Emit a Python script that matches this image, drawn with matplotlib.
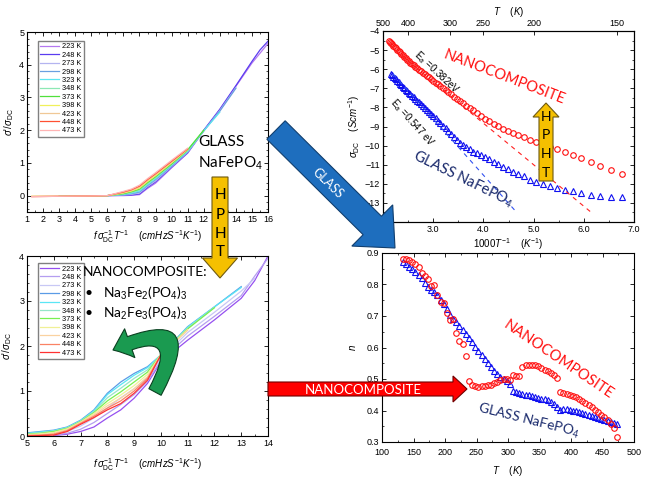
import numpy as np
import matplotlib
matplotlib.use("Agg")
import matplotlib.pyplot as plt
from matplotlib.patches import FancyArrow, FancyArrowPatch, ArrowStyle
from matplotlib.path import Path
from matplotlib.ticker import AutoMinorLocator, MultipleLocator, FormatStrFormatter

plt.rcParams['font.family'] = ['Liberation Sans', 'DejaVu Sans']
plt.rcParams['mathtext.fontset'] = 'custom'
plt.rcParams['mathtext.rm'] = 'Liberation Sans'
plt.rcParams['mathtext.it'] = 'Liberation Sans:italic'
plt.rcParams['mathtext.bf'] = 'Liberation Sans:bold'
plt.rcParams['xtick.direction'] = 'in'
plt.rcParams['ytick.direction'] = 'in'
plt.rcParams['axes.linewidth'] = 0.8

ANNOT = ['Lato', 'DejaVu Sans']

# ---------- master curves (sigma'/sigma_DC) ----------
temps = [223, 248, 273, 298, 323, 348, 373, 398, 423, 448, 473]
glass_colors = ['#b478f0', '#5a3cf0', '#b4b4f0', '#6aa0e0', '#5ce6f0', '#8ce8b4',
                '#50e03c', '#f0f05a', '#f0c896', '#ff5032', '#ffb4b4']
nano_colors = ['#9650f0', '#b49ef0', '#c8c8f5', '#5a9be6', '#5ae6f5', '#96e6c8',
               '#78f050', '#f0f096', '#fad2a0', '#fa8264', '#ff3232']

n = None
glass_x = [1.3, 3, 5, 6, 7, 7.5, 8, 8.5, 9, 10, 11, 12, 13, 14, 15, 15.5, 16]
glass_ratio = [
    [n, n, -0.01, 0.00, 0.00, 0.01, 0.03, 0.22, 0.38, 0.85, 1.30, 1.98, 2.62, 3.34, 4.05, 4.35, 4.65],
    [n, n, -0.01, 0.00, 0.01, 0.02, 0.05, 0.25, 0.42, 0.87, 1.31, 2.00, 2.64, 3.36, 4.10, 4.45, 4.72],
    [n, n, -0.01, 0.00, 0.02, 0.04, 0.08, 0.28, 0.45, 0.89, 1.33, 1.97, 2.60, 3.30, n, n, n],
    [n, n, -0.01, 0.00, 0.03, 0.06, 0.11, 0.31, 0.49, 0.91, 1.34, 1.98, 2.58, 3.28, n, n, n],
    [n, -0.02, -0.01, 0.00, 0.04, 0.08, 0.14, 0.34, 0.52, 0.93, 1.36, 1.98, 2.55, n, n, n, n],
    [n, -0.02, -0.01, 0.00, 0.05, 0.10, 0.17, 0.37, 0.55, 0.95, 1.38, 1.99, n, n, n, n, n],
    [n, -0.02, -0.01, 0.00, 0.06, 0.12, 0.20, 0.40, 0.58, 0.97, 1.40, 2.00, n, n, n, n, n],
    [-0.02, -0.02, -0.01, 0.00, 0.08, 0.14, 0.23, 0.43, 0.61, 1.00, 1.41, n, n, n, n, n, n],
    [-0.02, -0.02, -0.01, 0.00, 0.09, 0.16, 0.26, 0.46, 0.64, 1.02, 1.42, n, n, n, n, n, n],
    [-0.03, -0.02, -0.01, 0.00, 0.11, 0.18, 0.29, 0.49, 0.67, 1.05, 1.43, n, n, n, n, n, n],
    [-0.03, -0.02, -0.01, 0.00, 0.13, 0.20, 0.32, 0.52, 0.70, 1.08, 1.45, n, n, n, n, n, n],
]

nano_x = [5, 5.5, 6, 6.5, 7, 7.5, 8, 8.5, 9, 9.5, 10, 11, 12, 13, 13.5, 14]
nano_ratio = [
    [n, n, 0.01, 0.04, 0.10, 0.20, 0.40, 0.58, 0.84, 1.17, 1.65, 2.13, 2.58, 3.06, 3.45, 4.00],
    [n, n, 0.02, 0.06, 0.15, 0.30, 0.50, 0.70, 0.92, 1.22, 1.68, 2.22, 2.66, 3.12, 3.55, 3.95],
    [n, 0.02, 0.04, 0.10, 0.22, 0.40, 0.62, 0.85, 1.05, 1.30, 1.72, 2.30, 2.75, 3.22, 3.50, n],
    [0.07, 0.10, 0.13, 0.20, 0.35, 0.58, 0.95, 1.20, 1.39, 1.54, 1.80, 2.43, 2.87, 3.32, n, n],
    [0.06, 0.09, 0.12, 0.19, 0.34, 0.56, 0.92, 1.14, 1.35, 1.52, 1.80, 2.42, 2.87, 3.30, n, n],
    [0.05, 0.07, 0.11, 0.18, 0.33, 0.54, 0.85, 1.06, 1.28, 1.47, 1.81, 2.40, 2.86, n, n, n],
    [0.04, 0.06, 0.10, 0.17, 0.32, 0.52, 0.78, 0.98, 1.20, 1.42, 1.81, 2.38, 2.85, n, n, n],
    [0.03, 0.05, 0.08, 0.16, 0.31, 0.50, 0.72, 0.91, 1.12, 1.37, 1.81, 2.37, n, n, n, n],
    [0.02, 0.03, 0.06, 0.14, 0.30, 0.47, 0.67, 0.84, 1.05, 1.32, 1.80, 2.35, n, n, n, n],
    [0.01, 0.02, 0.04, 0.12, 0.28, 0.44, 0.62, 0.78, 1.00, 1.28, 1.80, n, n, n, n, n],
    [0.00, 0.01, 0.02, 0.10, 0.26, 0.41, 0.58, 0.72, 0.95, 1.24, 1.80, n, n, n, n, n],
]

# ---------- DC conductivity (log10) ----------
T_dc_nano = [473, 468, 463, 458, 453, 448, 443, 438, 433, 428, 423, 418, 413, 408, 403, 398,
             393, 388, 383, 378, 373, 368, 363, 358, 353, 348, 343, 338, 333, 328, 323, 318,
             313, 308, 303, 298, 293, 288, 283, 278, 273, 268, 263, 258, 253, 248, 243, 238,
             233, 228, 223, 218, 213, 208, 203, 198, 193, 188, 183, 178, 173, 168, 163, 158,
             153, 148]
sigma_nano = [-4.50, -4.56, -4.63, -4.70, -4.77, -4.84, -4.91, -4.98, -5.05, -5.12,
              -5.20, -5.28, -5.36, -5.43, -5.51, -5.58, -5.65, -5.73, -5.80, -5.88,
              -5.96, -6.03, -6.11, -6.19, -6.27, -6.35, -6.43, -6.52, -6.61, -6.70,
              -6.79, -6.89, -6.99, -7.09, -7.20, -7.31, -7.43, -7.54, -7.67, -7.79,
              -7.92, -8.04, -8.15, -8.30, -8.45, -8.60, -8.72, -8.85, -8.99, -9.11,
              -9.23, -9.35, -9.46, -9.57, -9.69, -9.81, -9.93, -10.06, -10.20, -10.35,
              -10.50, -10.67, -10.86, -11.07, -11.28, -11.50]
T_dc_glass = [463, 458, 453, 448, 443, 438, 433, 428, 423, 418, 413, 408, 403, 398,
              393, 388, 383, 378, 373, 368, 363, 358, 353, 348, 343, 338, 333, 328, 323, 318,
              313, 308, 303, 298, 293, 288, 283, 278, 273, 268, 263, 258, 253, 248, 243, 238,
              233, 228, 223, 218, 213, 208, 203, 198, 193, 188, 183, 178, 173, 168, 163, 158,
              153, 148]
sigma_glass = [-6.25, -6.32, -6.39, -6.46, -6.53, -6.60, -6.67, -6.75, -6.83, -6.91,
               -6.99, -7.07, -7.15, -7.23, -7.31, -7.39, -7.47, -7.56, -7.64, -7.73,
               -7.82, -7.92, -8.02, -8.12, -8.23, -8.34, -8.45, -8.57, -8.70, -8.83,
               -8.96, -9.10, -9.24, -9.39, -9.54, -9.70, -9.85, -9.98, -10.09, -10.20,
               -10.31, -10.40, -10.49, -10.58, -10.72, -10.84, -10.96, -11.11, -11.24, -11.37,
               -11.50, -11.61, -11.78, -11.89, -12.01, -12.11, -12.24, -12.32, -12.38, -12.50,
               -12.59, -12.64, -12.68, -12.71]
ea_nano_x = [2.10, 6.15]
ea_nano_y = [-4.70, -13.50]
ea_glass_x = [2.20, 4.62]
ea_glass_y = [-6.25, -13.37]
T_top = [500, 400, 300, 250, 200, 150]

# ---------- exponent n ----------
T_n = [133, 138, 143, 148, 153, 158, 163, 168, 173, 178, 183, 188, 193, 198, 203, 208,
       213, 218, 223, 228, 233, 238, 243, 248, 253, 258, 263, 268, 273, 278, 283, 288,
       293, 298, 303, 308, 313, 318, 323, 328, 333, 338, 343, 348, 353, 358, 363, 368,
       373, 378, 383, 388, 393, 398, 403, 408, 413, 418, 423, 428, 433, 438, 443, 448,
       453, 458, 463, 468, 473]
n_glass = [0.870, 0.864, 0.856, 0.848, 0.840, 0.830, 0.820, 0.806, 0.793, 0.783,
           0.775, 0.766, 0.752, 0.737, 0.722, 0.702, 0.692, 0.680, 0.669, 0.657,
           0.643, 0.630, 0.616, 0.602, 0.588, 0.575, 0.563, 0.550, 0.538, 0.526,
           0.515, 0.506, 0.500, 0.494, 0.485, 0.463, 0.458, 0.455, 0.452, 0.450,
           0.448, 0.446, 0.443, 0.440, 0.438, 0.436, 0.432, 0.427, 0.421, 0.410,
           0.402, 0.406, 0.405, 0.402, 0.400, 0.398, 0.395, 0.392, 0.389, 0.386,
           0.383, 0.380, 0.377, 0.373, 0.370, 0.367, 0.364, 0.361, 0.357]
n_nano = [0.880, 0.882, 0.878, 0.872, 0.866, 0.856, 0.838, 0.826, 0.818, 0.796,
          0.798, 0.768, 0.745, 0.740, 0.708, 0.686, 0.690, 0.645, 0.620, 0.610,
          0.573, 0.495, 0.482, 0.477, 0.476, 0.477, 0.478, 0.480, 0.482, 0.486,
          0.489, 0.496, 0.500, 0.500, 0.498, 0.513, 0.508, 0.510, 0.538, 0.543,
          0.545, 0.546, 0.545, 0.541, 0.536, 0.530, 0.524, 0.519, 0.512, 0.503,
          0.458, 0.457, 0.453, 0.450, 0.446, 0.442, 0.437, 0.430, 0.424, 0.417,
          0.410, 0.402, 0.394, 0.386, 0.379, 0.370, 0.358, 0.345, 0.317]

W, H = 645, 479
fig = plt.figure(figsize=(W / 100, H / 100), dpi=100)


def px_axes(left, top, right, bottom):
    return fig.add_axes([left / W, 1 - bottom / H, (right - left) / W, (bottom - top) / H])


def style(ax, xmaj, ymaj, xminor, yminor):
    ax.xaxis.set_major_locator(MultipleLocator(xmaj))
    ax.yaxis.set_major_locator(MultipleLocator(ymaj))
    ax.xaxis.set_minor_locator(AutoMinorLocator(xminor))
    ax.yaxis.set_minor_locator(AutoMinorLocator(yminor))
    ax.tick_params(which='both', top=True, right=True, labelsize=6.5, pad=2)
    ax.tick_params(which='major', length=3, width=0.6)
    ax.tick_params(which='minor', length=1.5, width=0.5)


def master_legend(ax, y0):
    ax.legend(loc='upper left', bbox_to_anchor=(0.045, y0), fontsize=5.3, handlelength=2.6,
              handletextpad=0.4, borderpad=0.3, labelspacing=0.17, fancybox=False,
              edgecolor='#808080', framealpha=1, borderaxespad=0)


xlab_master = r"$f\,\sigma^{-1}_{\rm DC}T^{-1}$    $(cmHzS^{-1}K^{-1})$"
ylab_master = r"$\sigma$'/$\sigma_{\rm DC}$"

# ---------- top-left: glass master curves ----------
ax1 = px_axes(27, 32, 268, 212)
for T, c, row in zip(temps, glass_colors, glass_ratio):
    ax1.plot(glass_x, np.array(row, dtype=float), color=c, lw=0.9, label=f"{T} K")
ax1.set_xlim(1, 16)
ax1.set_ylim(-0.5, 5)
style(ax1, 1, 1, 2, 5)
ax1.set_xlabel(xlab_master, fontsize=7, labelpad=3)
ax1.set_ylabel(ylab_master, fontsize=7, labelpad=2)
master_legend(ax1, 0.95)

# ---------- bottom-left: nanocomposite master curves ----------
ax3 = px_axes(27, 256, 268, 436)
for T, c, row in zip(temps, nano_colors, nano_ratio):
    ax3.plot(nano_x, np.array(row, dtype=float), color=c, lw=0.9, label=f"{T} K")
ax3.set_xlim(5, 14)
ax3.set_ylim(0, 4)
style(ax3, 1, 1, 2, 5)
ax3.set_xlabel(xlab_master, fontsize=7, labelpad=6)
ax3.set_ylabel(ylab_master, fontsize=7, labelpad=4)
master_legend(ax3, 0.96)

# ---------- top-right: sigma_DC vs 1000/T ----------
ax2 = px_axes(383, 31, 634, 222)
ax2.plot(1000 / np.array(T_dc_nano), sigma_nano, 'o', mfc='none', mec='#ff1010', ms=4, mew=0.8)
ax2.plot(1000 / np.array(T_dc_glass), sigma_glass, '^', mfc='none', mec='#1010f0', ms=4, mew=0.8)
ax2.plot(ea_nano_x, ea_nano_y, color='#ff2020', lw=0.8, ls=(0, (4, 4)))
ax2.plot(ea_glass_x, ea_glass_y, color='#3050f0', lw=0.8, ls=(0, (4, 4)))
ax2.set_xlim(2, 7)
ax2.set_ylim(-14, -4)
style(ax2, 1, 1, 2, 2)
ax2.tick_params(which='both', top=False)
ax2.xaxis.set_major_formatter(FormatStrFormatter('%.1f'))
ax2.set_xlabel(r"1000$T^{-1}$    $(K^{-1})$", fontsize=7, labelpad=2)
ax2.set_ylabel(r"$\sigma_{\rm DC}$    $(Scm^{-1})$", fontsize=7, labelpad=2)
ax2t = ax2.twiny()
ax2t.set_xlim(2, 7)
ax2t.set_xticks(1000 / np.array(T_top))
ax2t.set_xticklabels([str(t) for t in T_top])
ax2t.tick_params(direction='in', labelsize=6.5, length=3, width=0.6, pad=2)
ax2t.set_xlabel(r"$T$    $(K)$", fontsize=7, labelpad=3)

# ---------- bottom-right: n vs T ----------
ax4 = px_axes(382, 253, 634, 442)
ax4.plot(T_n, n_glass, '^', mfc='none', mec='#1010f0', ms=4, mew=0.8)
ax4.plot(T_n, n_nano, 'o', mfc='none', mec='#ff1010', ms=4, mew=0.8)
ax4.set_xlim(100, 500)
ax4.set_ylim(0.3, 0.9)
style(ax4, 50, 0.1, 2, 2)
ax4.tick_params(axis='x', which='major', pad=4)
ax4.set_xlabel(r"$T$    $(K)$", fontsize=7, labelpad=5)
ax4.set_ylabel(r"$n$", fontsize=7, labelpad=6)

# ---------- overlay in pixel coordinates ----------
ov = fig.add_axes([0, 0, 1, 1])
ov.set_xlim(0, W)
ov.set_ylim(H, 0)
ov.axis('off')

# blue GLASS arrow
ov.add_patch(FancyArrow(276, 130, 119, 118, width=26, head_width=58, head_length=32,
                        length_includes_head=True, fc='#1e6ebe', ec='#103e6e', lw=0.8))
ov.text(328, 183, "GLASS", rotation=-44, color='white', fontsize=9, ha='center', va='center',
        family=ANNOT, rotation_mode='anchor')

# red NANOCOMPOSITE arrow
ov.add_patch(FancyArrow(268, 389, 199, 0, width=14, head_width=26, head_length=14,
                        length_includes_head=True, fc='#ff0000', ec='#700000', lw=0.8))
ov.text(363, 389.5, "NANOCOMPOSITE", color='white', fontsize=9.5, ha='center', va='center',
        family=ANNOT)

# yellow HPHT arrows
ov.add_patch(FancyArrow(220, 177, 0, 101, width=16, head_width=35, head_length=20,
                        length_includes_head=True, fc='#f5c000', ec='#6f5a10', lw=0.8))
for letter, yy in zip("HPHT", [195, 215, 234, 252]):
    ov.text(220, yy, letter, fontsize=11, ha='center', va='center', family=ANNOT)
ov.add_patch(FancyArrow(546, 181, 0, -78, width=14, head_width=26, head_length=14,
                        length_includes_head=True, fc='#f5c000', ec='#6f5a10', lw=0.8))
for letter, yy in zip("HPHT", [117, 135, 154, 173]):
    ov.text(546, yy, letter, fontsize=10, ha='center', va='center', family=ANNOT)

# green curved arrow
green_path = Path([(155, 392), (198, 312), (113, 350)],
                  [Path.MOVETO, Path.CURVE3, Path.CURVE3])
ov.add_patch(FancyArrowPatch(path=green_path,
                             arrowstyle=ArrowStyle.Simple(head_length=13, head_width=22, tail_width=10),
                             fc='#1a9a50', ec='#0a4020', lw=0.8))

# texts
ov.text(198, 142, "GLASS", fontsize=11, ha='left', va='center', family=ANNOT)
ov.text(198, 163, r"NaFePO$_4$", fontsize=11, ha='left', va='center', family=ANNOT)
ov.text(83, 272, "NANOCOMPOSITE:", fontsize=10, ha='left', va='center', family=ANNOT)
for yy, formula in zip([293, 313], [r"Na$_3$Fe$_2$(PO$_4$)$_3$", r"Na$_2$Fe$_3$(PO$_4$)$_3$"]):
    ov.text(85, yy, "\u2022", fontsize=10, ha='left', va='center', family=ANNOT)
    ov.text(103, yy, formula, fontsize=10, ha='left', va='center', family=ANNOT)

ov.text(504, 77, "NANOCOMPOSITE", color='#ff1010', fontsize=10.5, rotation=-21,
        ha='center', va='center', family=ANNOT, rotation_mode='anchor')
ov.text(463, 179, r"GLASS NaFePO$_4$", color='#1a2a6c', fontsize=10.5, rotation=-26,
        ha='center', va='center', family=ANNOT, rotation_mode='anchor')
ov.text(437, 73, r"E$_a$ =0.382eV", fontsize=7, rotation=-43, ha='center', va='center',
        rotation_mode='anchor')
ov.text(412, 123, r"E$_a$ =0.547 eV", fontsize=7, rotation=-48, ha='center', va='center',
        rotation_mode='anchor')
ov.text(558, 360, "NANOCOMPOSITE", color='#ff1010', fontsize=10.5, rotation=-34,
        ha='center', va='center', family=ANNOT, rotation_mode='anchor')
ov.text(529, 421, r"GLASS NaFePO$_4$", color='#1a2a6c', fontsize=10, rotation=-14,
        ha='center', va='center', family=ANNOT, rotation_mode='anchor')

fig.savefig("out.png", dpi=100)
